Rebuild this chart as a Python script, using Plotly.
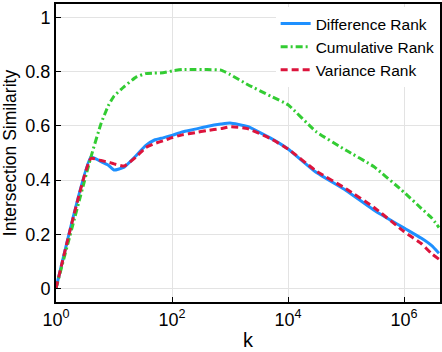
import plotly.graph_objects as go

k = [1, 4, 6, 8, 10, 15, 24, 35, 50, 70, 100, 150, 250, 400, 700, 1000,
     2000, 5000, 10000, 30000, 100000, 300000, 1000000, 2000000, 3000000, 4000000]

difference_rank = [0, 0.485, 0.468, 0.455, 0.437, 0.448, 0.490, 0.527, 0.548, 0.556,
                   0.565, 0.578, 0.588, 0.598, 0.607, 0.611, 0.598, 0.555, 0.515,
                   0.430, 0.362, 0.290, 0.223, 0.185, 0.158, 0.130]
cumulative_rank = [0, 0.485, 0.610, 0.675, 0.710, 0.745, 0.780, 0.793, 0.795, 0.796,
                   0.803, 0.808, 0.808, 0.808, 0.806, 0.790, 0.753, 0.710, 0.678,
                   0.580, 0.510, 0.450, 0.355, 0.295, 0.260, 0.225]
variance_rank = [0, 0.480, 0.472, 0.466, 0.460, 0.452, 0.485, 0.520, 0.535, 0.545,
                 0.557, 0.567, 0.575, 0.583, 0.590, 0.597, 0.590, 0.553, 0.515,
                 0.435, 0.368, 0.300, 0.210, 0.165, 0.128, 0.108]

x_tickvals = [1, 100, 10000, 1000000]
x_ticktext = ["10<sup>0</sup>", "10<sup>2</sup>", "10<sup>4</sup>", "10<sup>6</sup>"]
y_tickvals = [0, 0.2, 0.4, 0.6, 0.8, 1]
y_ticktext = ["0", "0.2", "0.4", "0.6", "0.8", "1"]

font = "Arial, Liberation Sans, sans-serif"

fig = go.Figure()
fig.add_trace(go.Scatter(x=k, y=difference_rank, mode="lines", name="Difference Rank",
                         line=dict(color="#1E90FF", width=3, shape="spline", smoothing=0.4)))
fig.add_trace(go.Scatter(x=k, y=cumulative_rank, mode="lines", name="Cumulative Rank",
                         line=dict(color="#33CC33", width=3, dash="7px,3px,2px,3px",
                                   shape="spline", smoothing=0.4)))
fig.add_trace(go.Scatter(x=k, y=variance_rank, mode="lines", name="Variance Rank",
                         line=dict(color="#DC143C", width=3, dash="7px,4px",
                                   shape="spline", smoothing=0.4)))

fig.update_layout(
    width=442, height=352,
    margin=dict(l=56, r=0, t=4, b=50),
    paper_bgcolor="white", plot_bgcolor="white",
    font=dict(family=font, size=18, color="black"),
    legend=dict(x=0.572, y=0.99, xanchor="left", yanchor="top",
                bgcolor="white", borderwidth=0, font=dict(size=15.5),
                itemwidth=30, tracegroupgap=0),
    xaxis=dict(type="log", range=[0, 6.62], tickvals=x_tickvals, ticktext=x_ticktext,
               showgrid=True, gridcolor="#e3e3e3", gridwidth=1,
               showline=True, linecolor="black", linewidth=2, mirror=True,
               ticks="inside", ticklen=5, tickcolor="black",
               title=dict(text="k", font=dict(size=20), standoff=4),
               zeroline=False),
    yaxis=dict(range=[-0.05, 1.05], tickvals=y_tickvals, ticktext=y_ticktext,
               showgrid=True, gridcolor="#e3e3e3", gridwidth=1,
               showline=True, linecolor="black", linewidth=2, mirror=True,
               ticks="inside", ticklen=5, tickcolor="black",
               title=dict(text="Intersection Similarity", font=dict(size=17.5), standoff=4),
               zeroline=False),
)

fig.write_html("out.html")
